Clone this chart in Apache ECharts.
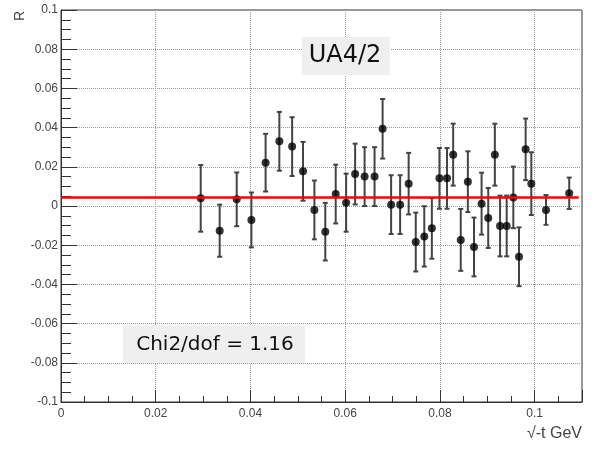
<!DOCTYPE html>
<html>
<head>
<meta charset="utf-8">
<script src="https://cdn.jsdelivr.net/npm/echarts@6/dist/echarts.min.js"></script>
<style>
html, body { margin: 0; padding: 0; background: #fff; }
#chart { width: 603px; height: 449px; }
</style>
</head>
<body>
<div id="chart"></div>
<script>
// sqrt(-t) 值
var xVals = [0.0295, 0.0335, 0.0371, 0.0402, 0.0432, 0.0461, 0.0488, 0.0511, 0.0535, 0.0558,
    0.0580, 0.0602, 0.0621, 0.0641, 0.0662, 0.0679, 0.0697, 0.0716, 0.0734, 0.0749,
    0.0767, 0.0783, 0.0799, 0.0815, 0.0828, 0.0844, 0.0859, 0.0872, 0.0888, 0.0902,
    0.0916, 0.0927, 0.0941, 0.0955, 0.0967, 0.0981, 0.0993, 0.1024, 0.1073];
// R 值
var yVals = [0.0039, -0.0126, 0.0034, -0.0071, 0.0221, 0.0330, 0.0303, 0.0177, -0.0020, -0.0131,
    0.0061, 0.0017, 0.0163, 0.0150, 0.0150, 0.0394, 0.0007, 0.0007, 0.0114, -0.0184,
    -0.0155, -0.0114, 0.0141, 0.0141, 0.0262, -0.0173, 0.0124, -0.0209, 0.0012, -0.0061,
    0.0262, -0.0102, -0.0102, 0.0044, -0.0259, 0.0289, 0.0114, -0.0020, 0.0065];
// 误差
var errVals = [0.0170, 0.0133, 0.0137, 0.0140, 0.0147, 0.0150, 0.0150, 0.0150, 0.0150, 0.0147,
    0.0150, 0.0148, 0.0155, 0.0150, 0.0150, 0.0152, 0.0150, 0.0150, 0.0157, 0.0150,
    0.0154, 0.0155, 0.0155, 0.0155, 0.0158, 0.0158, 0.0155, 0.0150, 0.0158, 0.0153,
    0.0158, 0.0155, 0.0155, 0.0157, 0.0150, 0.0157, 0.0160, 0.0076, 0.0080];
// 拟合
var fitValue = 0.0044;
var fitRange = [0, 0.1093];
var xTicks = [0, 0.11];
var yTicks = [-0.1, 0.1];

var points = [], bars = [];
for (var i = 0; i < xVals.length; i++) {
    points.push([xVals[i], yVals[i]]);
    bars.push([xVals[i], yVals[i] - errVals[i], yVals[i] + errVals[i]]);
}

var myChart = echarts.init(document.getElementById("chart"));
var labelFont = { fontFamily: "Liberation Sans", fontSize: 12, color: "#444" };
var boxFont = "'Comic Sans MS', 'DejaVu Sans', sans-serif";

option = {
    animation: false,
    grid: {
        left: 61, right: 21, top: 10, bottom: 47,
        show: true, borderColor: "#333", borderWidth: 1
    },
    xAxis: {
        type: "value", min: xTicks[0], max: xTicks[1], interval: 0.02,
        axisLine: { onZero: false, lineStyle: { color: "#333" } },
        axisTick: { inside: true, length: 12, lineStyle: { color: "#333" } },
        minorTick: { show: true, splitNumber: 4, length: 6, lineStyle: { color: "#333" } },
        splitLine: { show: true, lineStyle: { type: "dotted", color: "#999" } },
        axisLabel: {
            showMaxLabel: false, margin: 6,
            fontFamily: labelFont.fontFamily, fontSize: labelFont.fontSize, color: labelFont.color
        }
    },
    yAxis: {
        type: "value", min: yTicks[0], max: yTicks[1], interval: 0.02,
        axisLine: { onZero: false, lineStyle: { color: "#333" } },
        axisTick: { inside: true, length: 16, lineStyle: { color: "#333" } },
        minorTick: { show: true, splitNumber: 4, length: 10, lineStyle: { color: "#333" } },
        splitLine: { show: true, lineStyle: { type: "dotted", color: "#999" } },
        axisLabel: {
            margin: 3,
            fontFamily: labelFont.fontFamily, fontSize: labelFont.fontSize, color: labelFont.color
        }
    },
    graphic: [
        { type: "rect", shape: { x: 302, y: 37, width: 88, height: 38 }, style: { fill: "#efefef" }, z: 5 },
        { type: "text", x: 345, y: 56, style: { text: "UA4/2", font: "24px " + boxFont, fill: "#111", align: "center", verticalAlign: "middle" }, z: 6 },
        { type: "rect", shape: { x: 123, y: 325, width: 182, height: 38 }, style: { fill: "#efefef" }, z: 5 },
        { type: "text", x: 215, y: 345, style: { text: "Chi2/dof = 1.16", font: "20px " + boxFont, fill: "#111", align: "center", verticalAlign: "middle" }, z: 6 },
        { type: "text", x: 20, y: 16, rotation: Math.PI / 2, style: { text: "R", font: "14px Liberation Sans", fill: "#444", align: "center", verticalAlign: "middle" } },
        { type: "text", x: 582, y: 434, style: { text: "√-t GeV", font: "16px Liberation Sans", fill: "#444", align: "right", verticalAlign: "middle" } }
    ],
    series: [{
        type: "custom",
        data: bars,
        z: 3,
        renderItem: function (params, api) {
            var top = api.coord([api.value(0), api.value(2)]);
            var bot = api.coord([api.value(0), api.value(1)]);
            var style = { stroke: "#444", lineWidth: 2 };
            return {
                type: "group",
                children: [
                    { type: "line", shape: { x1: top[0], y1: top[1], x2: bot[0], y2: bot[1] }, style: style },
                    { type: "line", shape: { x1: top[0] - 2.5, y1: top[1], x2: top[0] + 2.5, y2: top[1] }, style: style },
                    { type: "line", shape: { x1: bot[0] - 2.5, y1: bot[1], x2: bot[0] + 2.5, y2: bot[1] }, style: style }
                ]
            };
        }
    }, {
        type: "scatter",
        data: points,
        symbol: "circle",
        symbolSize: 8,
        itemStyle: { color: "#000" },
        z: 4
    }, {
        type: "line",
        data: [[fitRange[0], fitValue], [fitRange[1], fitValue]],
        symbol: "none",
        lineStyle: { color: "#f00", width: 2.5 },
        z: 5
    }]
};
myChart.setOption(option);
</script>
</body>
</html>
